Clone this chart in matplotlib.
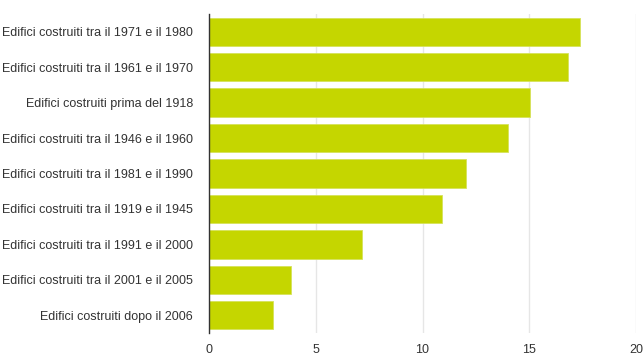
import matplotlib
matplotlib.use("Agg")
import matplotlib.pyplot as plt

categories = [
    "Edifici costruiti tra il 1971 e il 1980",
    "Edifici costruiti tra il 1961 e il 1970",
    "Edifici costruiti prima del 1918",
    "Edifici costruiti tra il 1946 e il 1960",
    "Edifici costruiti tra il 1981 e il 1990",
    "Edifici costruiti tra il 1919 e il 1945",
    "Edifici costruiti tra il 1991 e il 2000",
    "Edifici costruiti tra il 2001 e il 2005",
    "Edifici costruiti dopo il 2006",
]
values = [17.39, 16.83, 15.03, 13.99, 12.04, 10.90, 7.17, 3.86, 2.98]
xticks = [0, 5, 10, 15, 20]

plt.rcParams['font.family'] = ['Liberation Sans', 'DejaVu Sans']

fig = plt.figure(figsize=(6.43, 3.57), dpi=100)
ax = fig.add_axes([209/643, 1 - 333/357, (636 - 209)/643, (333 - 14)/357])

ypos = list(range(len(categories)))
ax.barh(ypos, values, height=0.8, color="#c5d600", edgecolor="#d6e25a", linewidth=0.6, zorder=2)
ax.set_ylim(len(categories) - 0.5, -0.5)
ax.set_xlim(0, 20)
ax.set_xticks(xticks)
ax.set_xticklabels([str(t) for t in xticks])
ax.set_yticks(ypos)
ax.set_yticklabels(categories)

ax.grid(axis='x', color="#e6e6e6", linewidth=1, zorder=0)
for s in ['top', 'right', 'bottom']:
    ax.spines[s].set_visible(False)
ax.spines['left'].set_color("#333333")
ax.spines['left'].set_linewidth(1)
ax.spines['left'].set_zorder(3)
ax.tick_params(axis='both', length=0, labelsize=9, labelcolor="#333333")
ax.tick_params(axis='y', pad=11.5)
ax.tick_params(axis='x', pad=8)

fig.savefig("out.png", dpi=100)
